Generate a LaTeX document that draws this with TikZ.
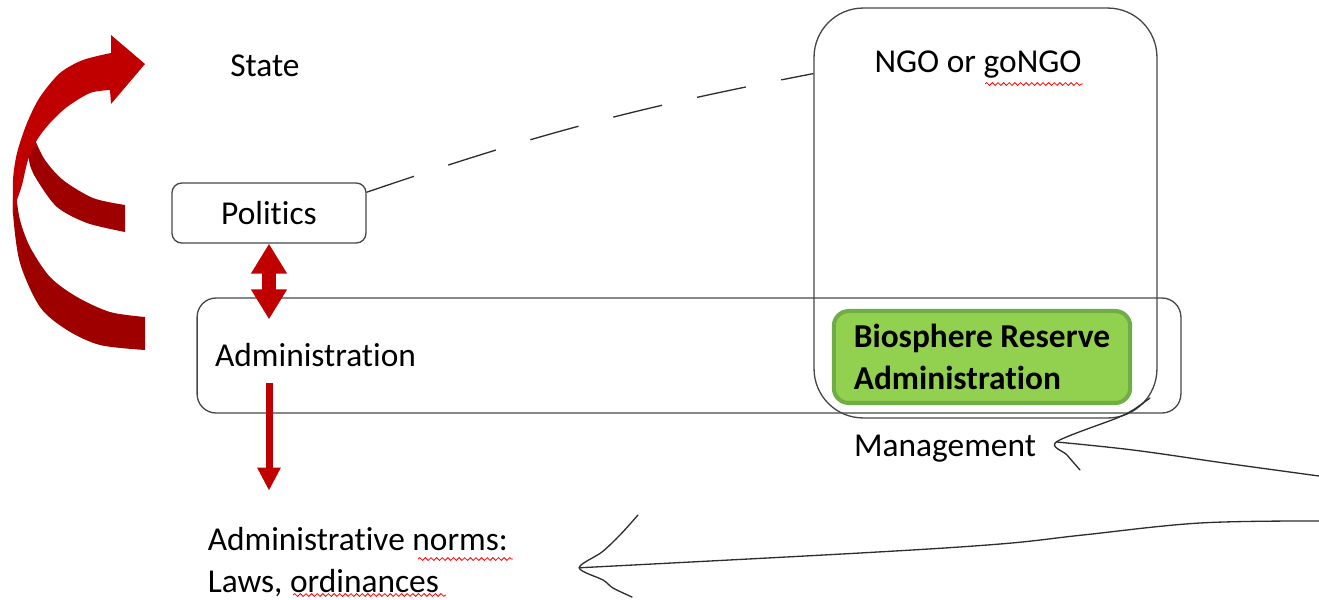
\documentclass[tikz,border=0pt]{standalone}
\usepackage{fontspec}
\setmainfont{Carlito}[Ligatures={NoCommon,NoRequired}]
\usepackage{tikz}
\usetikzlibrary{positioning, shapes, arrows.meta, calc, decorations.pathmorphing}

\definecolor{arrowred}{RGB}{192,0,0}
\definecolor{arrowdark}{RGB}{158,0,0}
\definecolor{braGreen}{RGB}{146,208,80}
\definecolor{braBorder}{RGB}{112,173,71}
\definecolor{boxline}{RGB}{70,70,70}
\definecolor{inkline}{RGB}{45,45,45}

\begin{document}
\begin{tikzpicture}[
    x=0.02cm, y=-0.02cm,
    every node/.style={font=\fontsize{19}{24}\selectfont},
    box/.style={rectangle, draw=boxline, line width=0.75pt},
    bra/.style={rectangle, rounded corners=8.5pt, draw=braBorder, fill=braGreen, line width=2.3pt, align=left, inner xsep=0.4cm, minimum width=5.88cm, minimum height=1.84cm, font=\bfseries\fontsize{19}{24}\selectfont},
    dblarrow/.style={draw=arrowred, line width=0.28cm, {Triangle[length=0.6cm,width=0.68cm]}-{Triangle[length=0.6cm,width=0.68cm]}},
    downarrow/.style={draw=arrowred, line width=0.14cm, -{Triangle[length=0.46cm,width=0.44cm]}},
    ngolink/.style={draw=inkline, line width=0.75pt, dash pattern=on 1cm off 0.72cm},
    hand/.style={draw=inkline, line width=0.75pt, line cap=round, line join=round},
    spell/.style={draw=red, line width=0.45pt, decorate, decoration={snake, amplitude=0.8pt, segment length=3.2pt}}
]
\useasboundingbox (0,0) rectangle (1319,599);

\node[box, rounded corners=5.5pt, minimum width=3.88cm, minimum height=1.2cm] (politics) at (269,213) {Politics};
\node[above=1.98cm of politics, xshift=-0.08cm] (state) {State};
\node[box, rounded corners=10.8pt, minimum width=19.68cm, minimum height=2.3cm, text width=18.96cm, align=left, inner xsep=0.36cm] (admin) at (689,355.5) {Administration};
\node[box, rounded corners=28pt, minimum width=6.86cm, minimum height=8.2cm] (ngo) at (985.5,213) {};
\node[below=0.74cm of ngo.north, xshift=-0.15cm] (ngolabel) {NGO or goNGO};
\node[bra] (bra) at (982,357) {Biosphere Reserve\\Administration};
\node[below right=0.6cm and 0.44cm of bra.south west, inner sep=0pt] (mgmt) {Management};
\node[below right=2.26cm and 0.22cm of admin.south west, inner sep=0pt, align=left] (norms) {Administrative norms:\\Laws, ordinances};

\draw[spell] (985,84) -- (1083,84);
\draw[spell] (418,559) -- (513,559);
\draw[spell] (293,595) -- (446,595);

\fill[arrowdark] plot[smooth] coordinates {(125,205) (93,198) (63,180) (45,160) (35,140)} -- plot[smooth] coordinates {(28,150) (30,165) (37,180) (57,207) (87,223) (125,232)} -- cycle;
\fill[arrowdark] plot[smooth] coordinates {(14,185) (13,213) (20,263) (40,307) (67,330) (100,345) (145,350)} -- plot[smooth] coordinates {(145,317) (110,312) (77,297) (50,277) (30,247) (20,220) (16,195) (14,185)} -- cycle;
\fill[arrowred] plot[smooth] coordinates {(13,215) (13,180) (17,153) (27,123) (40,97) (60,73) (83,60) (111,53)} -- (111,35) -- (145,64) -- (111,104) -- plot[smooth] coordinates {(110,90) (90,93) (67,107) (50,123) (37,140) (28,160) (22,185) (17,200) (13,215)} -- cycle;

\draw[dblarrow] (politics.south) -- ([yshift=-0.44cm]politics.south |- admin.north);
\draw[downarrow] ([yshift=-0.55cm]politics.south |- admin.center) -- ([yshift=0.72cm]politics.south |- norms.north);

\draw[ngolink] (politics.12) to[bend left=4] (ngo.141);

\coordinate (mfrom) at (1319,476);
\coordinate (mtip) at ($(mgmt.east)+(0.4cm,0.14cm)$);
\draw[hand] plot[smooth, tension=0.6] coordinates {(mfrom) (1253,467) (1217,462) (1133,450) (mtip)};
\draw[hand] plot[smooth, tension=0.5] coordinates {(1150,398) (1133,410) (1117,418) (mtip) (1067,455) (1080,470)};

\coordinate (nfrom) at (1319,521);
\coordinate (ntip) at ($(norms.east)+(1.42cm,-0.12cm)$);
\draw[hand] plot[smooth, tension=0.6] coordinates {(nfrom) (1200,523) (1083,535) (1000,544) (860,553) (ntip)};
\draw[hand] plot[smooth, tension=0.5] coordinates {(638,515) (620,535) (602,552) (ntip) (603,580) (613,588) (632,597)};

\end{tikzpicture}
\end{document}
